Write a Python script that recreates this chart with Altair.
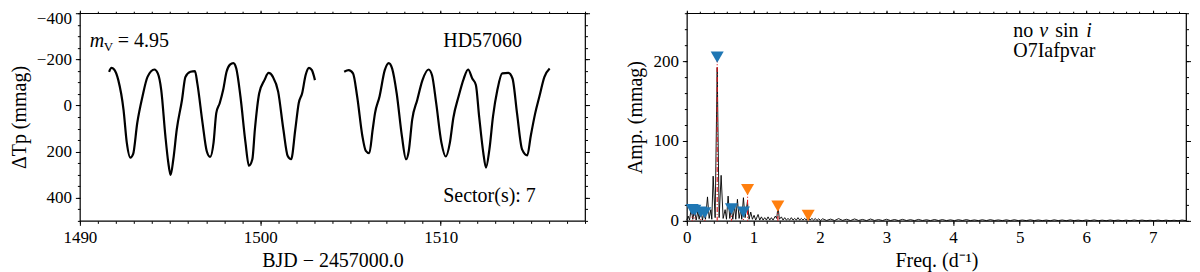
import altair as alt
import pandas as pd

FONT = "Liberation Serif"

# ---------------- light curve (left panel) ----------------
lc1_t = [1491.62, 1491.75, 1491.9, 1492.13, 1492.42, 1492.6, 1492.8, 1492.95, 1493.18, 1493.47,
         1493.75, 1494.13, 1494.32, 1494.51, 1494.74, 1494.9, 1495.03, 1495.18, 1495.37, 1495.66,
         1495.85, 1496.13, 1496.38, 1496.51, 1496.8, 1497.03, 1497.22, 1497.41, 1497.56, 1497.75,
         1497.94, 1498.13, 1498.32, 1498.51, 1498.67, 1498.9, 1499.18, 1499.37, 1499.56, 1499.7,
         1499.94, 1500.23, 1500.46, 1500.7, 1500.99, 1501.28, 1501.52, 1501.71, 1501.94, 1502.13,
         1502.32, 1502.51, 1502.7, 1502.86, 1503.03]
lc1_dm = [-146, -163, -156, -110, 19, 161, 226, 211, 76, -39,
          -124, -156, -139, -67, 133, 247, 301, 233, 104, -24,
          -124, -146, -149, -96, 76, 197, 223, 161, 33, -10,
          -67, -146, -177, -184, -160, -39, 161, 261, 233, 104,
          -53, -110, -141, -124, -60, 104, 219, 233, 104, -10,
          -53, -131, -163, -153, -110]
lc2_t = [1504.65, 1504.9, 1505.14, 1505.37, 1505.66, 1505.85, 1506.04, 1506.23, 1506.36, 1506.61,
         1506.9, 1507.12, 1507.31, 1507.56, 1507.85, 1508.08, 1508.23, 1508.42, 1508.7, 1508.99,
         1509.33, 1509.52, 1509.75, 1510.04, 1510.28, 1510.51, 1510.7, 1510.99, 1511.28, 1511.52,
         1511.75, 1511.95, 1512.13, 1512.36, 1512.51, 1512.7, 1512.9, 1513.14, 1513.41, 1513.75,
         1513.98, 1514.23, 1514.51, 1514.8, 1514.99, 1515.24, 1515.47, 1515.75, 1516.04]
lc2_dm = [-146, -153, -139, -39, 133, 197, 207, 104, 33, -39,
          -153, -184, -160, -53, 133, 233, 197, 61, -24, -110,
          -156, -131, -10, 161, 221, 161, 54, -39, -117, -156,
          -117, -89, 47, 204, 269, 190, 47, -67, -139, -141,
          -117, 33, 190, 216, 133, 33, -39, -124, -160]

# ---------------- periodogram (right panel) ----------------
pg_lo_f = [0.00, 0.02, 0.04, 0.065, 0.09, 0.115, 0.14, 0.165, 0.185, 0.21,
           0.235, 0.26, 0.28, 0.31, 0.335, 0.36, 0.375, 0.395, 0.425, 0.456,
           0.485, 0.515, 0.545, 0.575, 0.595, 0.62, 0.645, 0.67, 0.69, 0.72,
           0.735, 0.76, 0.785, 0.81, 0.825, 0.85, 0.875, 0.91, 0.935, 0.96,
           0.985, 1.01, 1.035, 1.07, 1.095, 1.12, 1.145, 1.17, 1.195, 1.22,
           1.245, 1.27, 1.295, 1.33, 1.35, 1.37, 1.39, 1.42, 1.445, 1.47,
           1.495, 1.52, 1.545, 1.57, 1.595, 1.62, 1.645, 1.67, 1.695, 1.72,
           1.745, 1.77, 1.795, 1.825, 1.85, 1.88, 1.905, 1.93, 1.955, 1.98,
           2.01]
pg_lo_a = [1, 6, 1, 15, 2, 14, 1, 12, 2, 14,
           1, 12, 2, 30, 3, 14, 2, 56, 4, 192,
           4, 57, 3, 14, 2, 31, 3, 16, 2, 18,
           2, 27, 3, 15, 2, 29, 4, 24, 2, 11,
           2, 7, 1, 8, 1, 5, 1, 4, 1, 5,
           1, 4, 1, 6, 3, 18, 2, 5, 1, 4,
           1, 3, 1, 4, 1, 3, 1, 4, 1, 3,
           1, 3, 1, 5, 1, 3, 1, 3, 0.5, 2.5,
           0.5]
pg_hi_f = [2.04, 2.10, 2.16, 2.22, 2.28, 2.34, 2.40, 2.46, 2.52, 2.58,
           2.64, 2.70, 2.76, 2.82, 2.88, 2.94, 3.00, 3.06, 3.12, 3.18,
           3.24, 3.30, 3.36, 3.42, 3.48, 3.54, 3.60, 3.66, 3.72, 3.78,
           3.84, 3.90, 3.96, 4.02, 4.08, 4.14, 4.20, 4.26, 4.32, 4.38,
           4.44, 4.50, 4.56, 4.62, 4.68, 4.74, 4.80, 4.86, 4.92, 4.98,
           5.04, 5.10, 5.16, 5.22, 5.28, 5.34, 5.40, 5.46, 5.52, 5.58,
           5.64, 5.70, 5.76, 5.82, 5.88, 5.94, 6.00, 6.06, 6.12, 6.18,
           6.24, 6.30, 6.36, 6.42, 6.48, 6.54, 6.60, 6.66, 6.72, 6.78,
           6.84, 6.90, 6.96, 7.02, 7.08, 7.14, 7.20, 7.26, 7.32, 7.38,
           7.44, 7.50]
pg_hi_a = [2.6, 0.5, 2.2, 0.4, 2.8, 0.6, 2.0, 0.4, 2.4, 0.5,
           1.8, 0.3, 2.3, 0.5, 1.6, 0.4, 2.0, 0.4, 1.7, 0.3,
           1.9, 0.4, 1.5, 0.3, 1.8, 0.4, 1.4, 0.3, 1.7, 0.4,
           1.6, 0.3, 1.3, 0.3, 1.5, 0.4, 1.6, 0.3, 1.2, 0.3,
           1.4, 0.3, 1.5, 0.4, 1.2, 0.3, 1.3, 0.3, 1.4, 0.3,
           1.1, 0.3, 1.3, 0.3, 1.2, 0.3, 1.0, 0.2, 1.3, 0.3,
           1.1, 0.2, 1.2, 0.3, 1.0, 0.2, 1.1, 0.3, 1.2, 0.2,
           0.9, 0.2, 1.1, 0.3, 1.0, 0.2, 0.9, 0.2, 1.1, 0.3,
           1.0, 0.2, 0.8, 0.2, 1.0, 0.2, 0.9, 0.2, 0.8, 0.2,
           1.0, 0.3]

# extracted frequencies (markers)
mk_f = [0.456, 0.08, 0.12, 0.21, 0.27, 0.67, 0.85, 0.912, 1.367, 1.823]
mk_a = [205, 14, 13, 11, 10, 15, 11, 39, 18.5, 7]
mk_kind = ["indep", "indep", "indep", "indep", "indep", "indep", "indep",
           "combo", "combo", "combo"]

# axis tick values
lc_x_major = [1490, 1500, 1510]
lc_x_minor = list(range(1490, 1519))
lc_y_major = [-400, -200, 0, 200, 400]
lc_y_minor = list(range(-400, 501, 50))
pg_x_major = [0, 1, 2, 3, 4, 5, 6, 7]
pg_x_minor = [round(0.2 * i, 1) for i in range(0, 38)]
pg_y_major = [0, 100, 200]
pg_y_minor = list(range(0, 261, 20))

lc = pd.DataFrame({
    "t": lc1_t + lc2_t,
    "dm": lc1_dm + lc2_dm,
    "seg": ["s1"] * len(lc1_t) + ["s2"] * len(lc2_t),
})
pg = pd.DataFrame({"f": pg_lo_f + pg_hi_f, "a": pg_lo_a + pg_hi_a})
mk = pd.DataFrame({"f": mk_f, "a": mk_a, "kind": mk_kind})

MAJ, MIN = 4.5, 2.5
TMAJ, TMIN = 3, 2


def axis(orient, values, size, title=None, labels=False, tpad=5, flush=False):
    kw = dict(orient=orient, values=values, tickSize=size, tickColor="black",
              tickWidth=1, domain=False, grid=False, labels=labels)
    if labels:
        kw.update(labelFont=FONT, labelFontSize=17, labelColor="black",
                  labelPadding=4, labelFlush=flush, labelOverlap=False, format="d",
                  title=title, titleFont=FONT, titleFontSize=20,
                  titleFontWeight="normal", titleColor="black", titlePadding=tpad)
        if flush:
            kw["labelFlushOffset"] = 3
    else:
        kw["title"] = None
    return alt.Axis(**kw)


W1, W2, H = 506, 500, 208

# ---------- left panel ----------
xs1 = alt.Scale(domain=[1490, 1518], nice=False, zero=False)
ys1 = alt.Scale(domain=[-400, 500], reverse=True, nice=False, zero=False)

lc_base = alt.Chart(lc)


def lc_layer(ax_x, ax_y, visible=False):
    m = lc_base.mark_line(color="black", strokeWidth=2.2, interpolate="monotone",
                          opacity=1 if visible else 0)
    return m.encode(
        x=alt.X("t:Q", scale=xs1, axis=ax_x),
        y=alt.Y("dm:Q", scale=ys1, axis=ax_y),
        detail="seg:N",
    )


l1 = lc_layer(axis("bottom", lc_x_major, MAJ, "BJD − 2457000.0", True, tpad=5),
              axis("left", lc_y_major, MAJ, "ΔTp (mmag)", True, tpad=7, flush=True),
              visible=True)
l2 = lc_layer(axis("bottom", lc_x_minor, MIN), axis("left", lc_y_minor, MIN))
l3 = lc_layer(axis("top", lc_x_major, TMAJ), axis("right", lc_y_major, MAJ))
l4 = lc_layer(axis("top", lc_x_minor, TMIN), axis("right", lc_y_minor, MIN))


def txt(s, x, y, size=20, style="normal", align="left"):
    return alt.Chart(pd.DataFrame({"s": [s]})).mark_text(
        font=FONT, fontSize=size, fontStyle=style, color="black",
        align=align, baseline="alphabetic"
    ).encode(text="s:N", x=alt.value(x), y=alt.value(y))


left = alt.layer(
    l1, l2, l3, l4,
    txt("m", 10, 34, style="italic"),
    txt("V", 24, 38, size=13),
    txt("= 4.95", 38, 34),
    txt("HD57060", 364, 34),
    txt("Sector(s): 7", 364, 189),
).resolve_axis(x="independent", y="independent").properties(width=W1, height=H)

# ---------- right panel ----------
xs2 = alt.Scale(domain=[0, 7.5], nice=False, zero=False)
ys2 = alt.Scale(domain=[0, 260], nice=False, zero=False)

r1 = alt.Chart(pg).mark_line(color="black", strokeWidth=0.9).encode(
    x=alt.X("f:Q", scale=xs2, axis=axis("bottom", pg_x_major, MAJ, "Freq. (d⁻¹)", True, tpad=5)),
    y=alt.Y("a:Q", scale=ys2, axis=axis("left", pg_y_major, MAJ, "Amp. (mmag)", True, tpad=7)),
)
r2 = alt.Chart(mk).mark_rule(color="#e8141c", strokeWidth=1.1, strokeDash=[5, 2, 1, 2]).encode(
    x=alt.X("f:Q", scale=xs2, axis=axis("bottom", pg_x_minor, MIN)),
    y=alt.Y("a:Q", scale=ys2, axis=axis("left", pg_y_minor, MIN)),
    y2=alt.datum(0),
)
r3 = alt.Chart(mk).mark_point(shape="triangle-down", filled=True, size=170, opacity=1).encode(
    x=alt.X("f:Q", scale=xs2, axis=axis("top", pg_x_major, TMAJ)),
    y=alt.Y("a:Q", scale=ys2, axis=axis("right", pg_y_major, MAJ)),
    color=alt.Color("kind:N", scale=alt.Scale(domain=["indep", "combo"],
                                              range=["#1f77b4", "#ff7f0e"]), legend=None),
)
r4 = alt.Chart(mk).mark_point(opacity=0).encode(
    x=alt.X("f:Q", scale=xs2, axis=axis("top", pg_x_minor, TMIN)),
    y=alt.Y("a:Q", scale=ys2, axis=axis("right", pg_y_minor, MIN)),
)

right = alt.layer(
    r1, r2, r3, r4,
    txt("no", 327, 24),
    txt("v", 353, 24, style="italic"),
    txt("sin", 369, 24),
    txt("i", 400, 24, style="italic"),
    txt("O7Iafpvar", 327, 44),
).resolve_axis(x="independent", y="independent").properties(width=W2, height=H)

chart = alt.hconcat(left, right, spacing=34).properties(padding=0).configure_view(
    stroke="black", strokeWidth=1.2
)

chart.save("out.html", embed_options={"renderer": "svg", "actions": False})
